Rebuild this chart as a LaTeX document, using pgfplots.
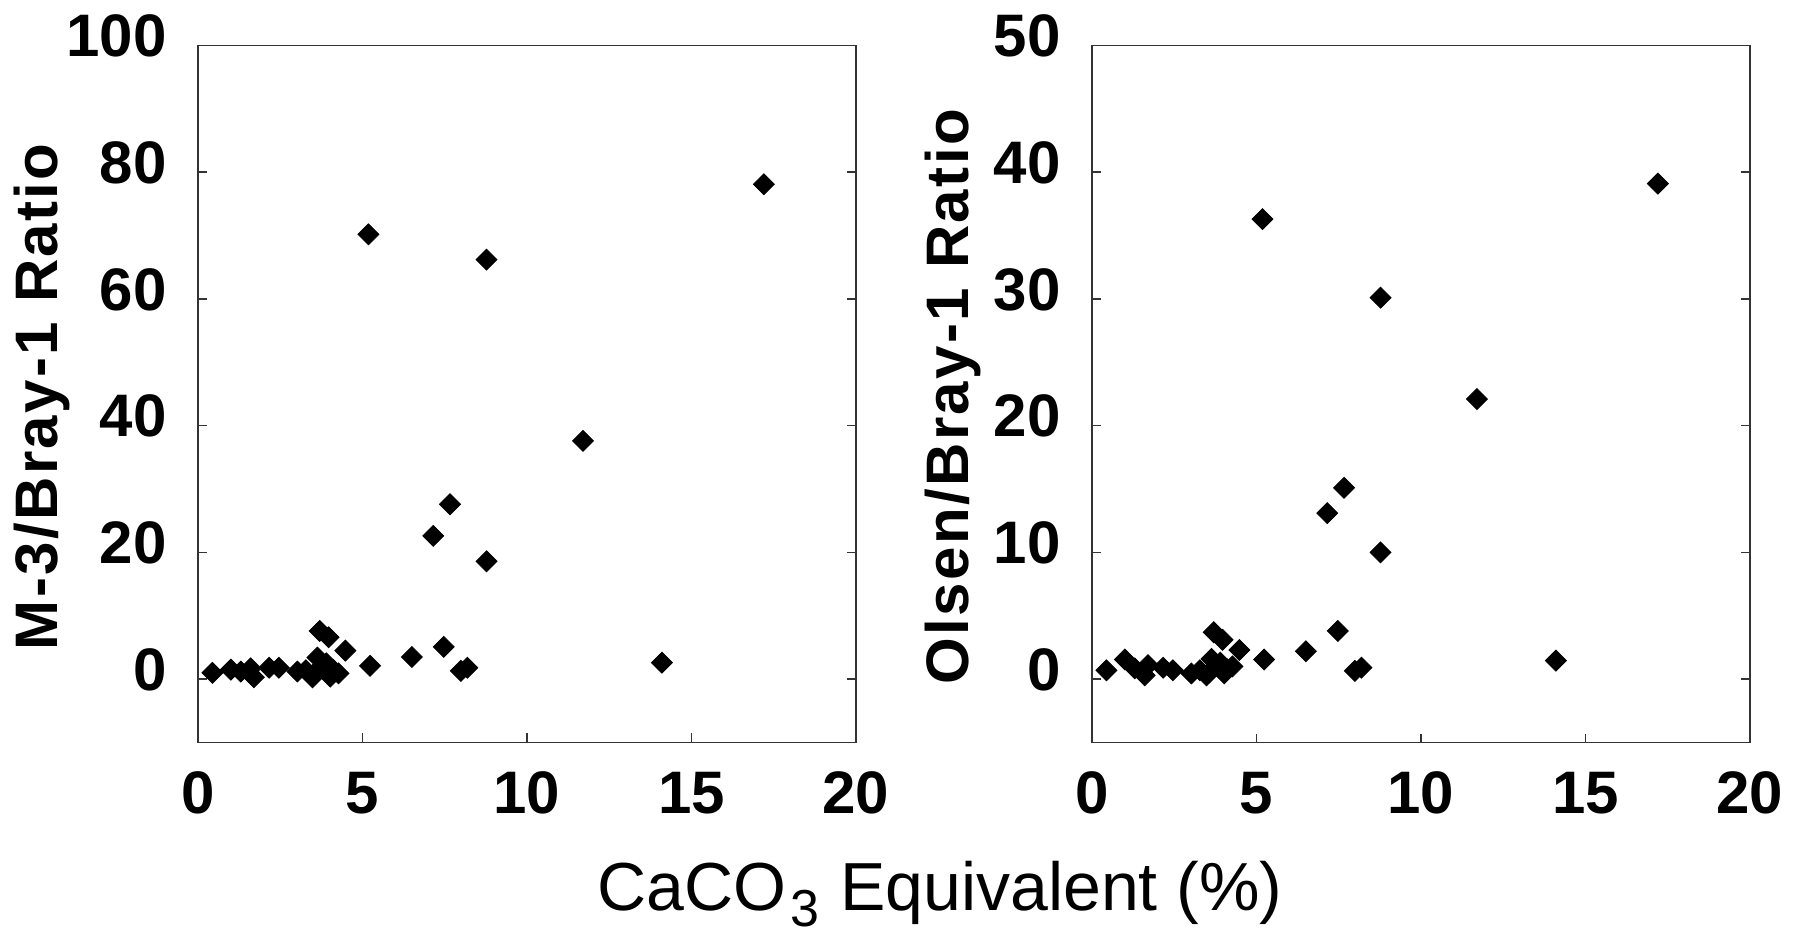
\documentclass[border=0pt]{standalone}
\usepackage{fontspec}
\setmainfont{Liberation Sans}
\newfontfamily\lblfont[LetterSpace=4]{Liberation Sans}
\usepackage{pgfplots}
\usepackage{pgfplotstable}
\pgfplotsset{compat=1.18}

% CaCO3 equivalent (%) vs. extractant ratios
\pgfplotstableread{
x     m3    olsen
0.44  1.0   0.7
1.00  1.5   1.55
1.30  1.2   0.85
1.60  1.7   0.3
1.70  0.3   1.1
2.16  1.8   0.9
2.46  1.8   0.7
3.02  1.2   0.45
3.28  1.4   0.7
3.48  0.3   0.3
3.55  1.0   0.5
3.70  7.6   3.7
3.97  6.6   3.1
3.63  3.4   1.6
3.83  1.8   1.0
3.90  2.5   1.3
4.02  0.4   0.45
4.10  1.5   0.8
4.27  0.9   1.0
4.48  4.5   2.3
5.23  2.1   1.55
6.50  3.5   2.2
7.47  5.1   3.8
7.99  1.3   0.65
8.19  1.8   0.9
5.18  70.2  36.3
8.77  66.2  30.1
17.2  78.1  39.1
11.7  37.6  22.1
7.66  27.6  15.1
7.15  22.6  13.1
8.77  18.6  10.0
14.1  2.6   1.46
}\caco

\pgfplotsset{
  panel/.style={
    scale only axis, width=329pt, height=348.5pt,
    xmin=0, xmax=20, xtick={0,5,...,20},
    tick align=inside, xtick pos=bottom, ytick pos=both,
    major tick length=4.5pt,
    axis line style={line width=0.8pt, black!80},
    tick style={line width=0.8pt, black!80},
    tick label style={font=\fontsize{30}{30}\selectfont\bfseries},
    /pgf/number format/assume math mode=true,
    xticklabel style={anchor=north, inner sep=0pt, yshift=-14.5pt},
    yticklabel style={anchor=east, inner sep=0pt, xshift=-15.5pt, yshift=4.75pt},
    every axis y label/.style={rotate=90, anchor=base, inner sep=0pt,
      font=\fontsize{30}{30}\selectfont\lblfont\bfseries},
  },
  pts/.style={only marks, mark=square*, mark size=3.7pt,
    mark options={rotate=45, fill=black, draw=black, line width=0.4pt}},
}

\begin{document}
\begin{tikzpicture}
\useasboundingbox (-99pt,-97.75pt) rectangle (801.5pt,371.25pt);

\begin{axis}[panel, at={(0pt,0pt)}, anchor=south west,
    ymin=-10, ymax=100, ytick={0,20,...,100},
    ylabel={M-3/Bray-1 Ratio},
    ylabel style={at={(axis description cs:-0.2128,0.496)}}]
\addplot[pts] table[x=x, y=m3] {\caco};
\end{axis}

\begin{axis}[panel, at={(447pt,0pt)}, anchor=south west,
    ymin=-5, ymax=50, ytick={0,10,...,50},
    ylabel={Olsen/Bray-1 Ratio},
    ylabel style={at={(axis description cs:-0.1884,0.496)}}]
\addplot[pts] table[x=x, y=olsen] {\caco};
\end{axis}

\node[anchor=base, inner sep=0pt, font=\fontsize{34}{34}\selectfont]
  at (371pt,-84pt) {CaCO\kern2pt\raisebox{-8pt}{\fontsize{26}{26}\selectfont 3}\kern1pt{} Equivalent (\%)};
\end{tikzpicture}
\end{document}
